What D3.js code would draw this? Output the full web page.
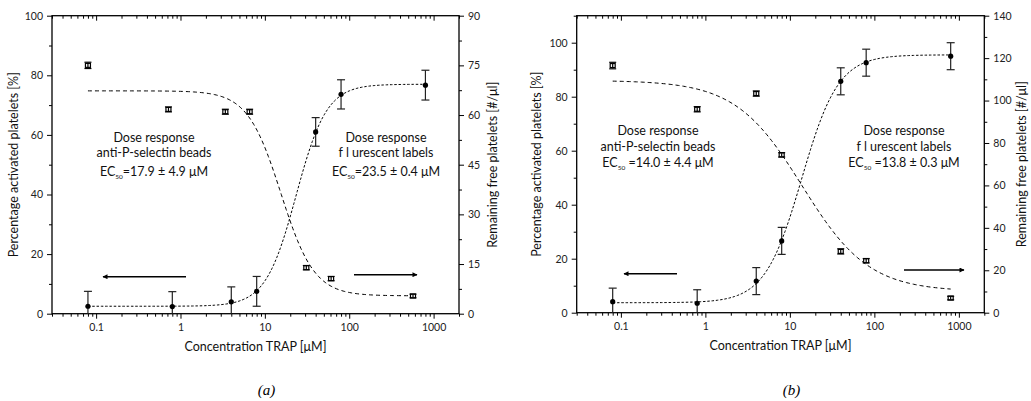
<!DOCTYPE html>
<html>
<head>
<meta charset="utf-8">
<script src="https://cdn.jsdelivr.net/npm/d3@7"></script>
<style>
body { margin: 0; background: #fff; }
svg { font-family: Lato, "Noto Sans", sans-serif; }
</style>
</head>
<body>
<svg id="chart" width="1031" height="401"></svg>
<script>
// ---- data ----
// panel (a)
var conc_act_a = [0.08, 0.8, 4, 8, 40, 80, 800];
var act_a      = [2.5, 2.4, 4.0, 7.5, 61.0, 73.6, 76.7];
var act_err_a  = [5, 5, 5, 5, 4.8, 4.9, 5];
var conc_free_a = [0.08, 0.72, 3.4, 6.6, 31, 61, 570];
var free_a      = [75.0, 61.7, 61.0, 61.0, 13.9, 10.6, 5.35];
var free_err_a  = [0.8, 0.6, 0.6, 0.6, 0.5, 0.5, 0.4];
// fit parameters [value at low conc, value at high conc, ec50, hill]
var fit_act_a  = [2.5, 77, 23.5, 2.4];
var fit_free_a = [67.3, 5.4, 15.5, 2.2];
var ec_text_a  = ["=17.9 \u00b1 4.9 \u03bcM", "=23.5 \u00b1 0.4 \u03bcM"];

// panel (b)
var conc_act_b = [0.08, 0.8, 4, 8, 40, 80, 800];
var act_b      = [4.1, 3.5, 11.7, 26.6, 85.7, 92.6, 95.0];
var act_err_b  = [5, 5, 5, 5, 5, 5, 5];
var conc_free_b = [0.08, 0.8, 4, 8, 40, 80, 800];
var free_b      = [116.5, 95.9, 103.3, 74.4, 28.9, 24.5, 6.9];
var free_err_b  = [1.3, 1.0, 1.0, 0.8, 1.0, 0.8, 0.6];
var fit_act_b  = [3.7, 95.5, 13.8, 2.0];
var fit_free_b = [109.5, 10, 14.0, 1.1];
var ec_text_b  = [" =14.0 \u00b1 4.4 \u03bcM", " =13.8 \u00b1 0.3 \u03bcM"];

var x_ticks = [0.1, 1, 10, 100, 1000];
var x_domain = [0.03, 2000];

var panels = [
    {name: "(a)", x0: 52, x1: 459, y0: 313.7, y1: 15.7,
     leftMax: 100, leftStep: 20, rightMax: 90, rightStep: 15,
     concAct: conc_act_a, act: act_a, actErr: act_err_a,
     concFree: conc_free_a, free: free_a, freeErr: free_err_a,
     fitAct: fit_act_a, fitFree: fit_free_a, ec: ec_text_a,
     curveEndFree: 570, curveEndAct: 800,
     textL: [154, 141.7], textR: [386, 141.7], lineGap: [15, 34],
     arrowL: [186, 103, 276.7], arrowR: [354, 417, 274.7],
     titleL: 18, titleR: 497},
    {name: "(b)", x0: 576.7, x1: 984.3, y0: 312.7, y1: 15.7,
     leftMax: 110, leftStep: 20, rightMax: 140, rightStep: 20,
     concAct: conc_act_b, act: act_b, actErr: act_err_b,
     concFree: conc_free_b, free: free_b, freeErr: free_err_b,
     fitAct: fit_act_b, fitFree: fit_free_b, ec: ec_text_b,
     curveEndFree: 800, curveEndAct: 800,
     textL: [658, 135], textR: [904, 135], lineGap: [16, 32],
     arrowL: [677, 624, 273.7], arrowR: [904, 964, 270],
     titleL: 541, titleR: 1026}
];

var svg = d3.select("#chart");
svg.append("defs").append("marker")
    .attr("id", "head")
    .attr("viewBox", "0 0 10 10")
    .attr("refX", 9).attr("refY", 5)
    .attr("markerWidth", 7).attr("markerHeight", 5)
    .attr("markerUnits", "userSpaceOnUse")
    .attr("orient", "auto")
    .append("path").attr("d", "M0,0L10,5L0,10z").attr("fill", "#000");

function hill(p, c) {
    var r = Math.pow(c / p[2], p[3]);
    return p[0] + (p[1] - p[0]) * r / (1 + r);
}

function logMinors(dom) {
    var out = [];
    for (var e = -2; e <= 3; e++)
        for (var k = 2; k <= 9; k++) {
            var v = k * Math.pow(10, e);
            if (v >= dom[0] && v <= dom[1]) out.push(v);
        }
    return out;
}

function drawPanel(p) {
    var g = svg.append("g");
    var x = d3.scaleLog().domain(x_domain).range([p.x0, p.x1]);
    var yL = d3.scaleLinear().domain([0, p.leftMax]).range([p.y0, p.y1]);
    var yR = d3.scaleLinear().domain([0, p.rightMax]).range([p.y0, p.y1]);

    var minorsX = logMinors(x_domain);
    var leftMaj = d3.range(0, p.leftMax + 0.1, p.leftStep);
    var leftMin = d3.range(p.leftStep / 2, p.leftMax + 0.1, p.leftStep);
    var rightMaj = d3.range(0, p.rightMax + 0.1, p.rightStep);
    var rightMin = d3.range(p.rightStep / 2, p.rightMax + 0.1, p.rightStep);

    // bottom axis
    g.append("g").attr("transform", "translate(0," + p.y0 + ")")
        .call(d3.axisBottom(x).tickValues(x_ticks).tickSizeInner(5).tickSizeOuter(0)
            .tickPadding(5).tickFormat(d3.format("~g")));
    g.append("g").attr("transform", "translate(0," + p.y0 + ")")
        .call(d3.axisBottom(x).tickValues(minorsX).tickSizeInner(3).tickSizeOuter(0).tickFormat(""));
    // top axis, ticks inside
    g.append("g").attr("transform", "translate(0," + p.y1 + ")")
        .call(d3.axisBottom(x).tickValues(x_ticks).tickSizeInner(5).tickSizeOuter(0).tickFormat(""));
    g.append("g").attr("transform", "translate(0," + p.y1 + ")")
        .call(d3.axisBottom(x).tickValues(minorsX).tickSizeInner(3).tickSizeOuter(0).tickFormat(""));
    // left
    g.append("g").attr("transform", "translate(" + p.x0 + ",0)")
        .call(d3.axisLeft(yL).tickValues(leftMaj).tickSizeInner(5).tickSizeOuter(0).tickPadding(4));
    g.append("g").attr("transform", "translate(" + p.x0 + ",0)")
        .call(d3.axisLeft(yL).tickValues(leftMin).tickSizeInner(3).tickSizeOuter(0).tickFormat(""));
    // right
    g.append("g").attr("transform", "translate(" + p.x1 + ",0)")
        .call(d3.axisRight(yR).tickValues(rightMaj).tickSizeInner(5).tickSizeOuter(0).tickPadding(4));
    g.append("g").attr("transform", "translate(" + p.x1 + ",0)")
        .call(d3.axisRight(yR).tickValues(rightMin).tickSizeInner(3).tickSizeOuter(0).tickFormat(""));

    g.selectAll(".tick text").attr("font-size", 10.5).attr("fill", "#222")
        .attr("font-family", "Lato, sans-serif");
    g.selectAll(".domain").remove();
    g.selectAll(".tick line").attr("stroke", "#000").attr("stroke-width", 1);

    g.append("rect")
        .attr("x", p.x0).attr("y", p.y1)
        .attr("width", p.x1 - p.x0).attr("height", p.y0 - p.y1)
        .attr("fill", "none").attr("stroke", "#000").attr("stroke-width", 1.3);

    // fitted curves
    var samples = function (end) {
        return d3.range(0, 201).map(function (i) {
            return Math.pow(10, Math.log10(0.08) + i / 200 * (Math.log10(end) - Math.log10(0.08)));
        });
    };
    g.append("path")
        .datum(samples(p.curveEndFree))
        .attr("d", d3.line().x(function (c) { return x(c); })
            .y(function (c) { return yR(hill(p.fitFree, c)); }))
        .attr("fill", "none").attr("stroke", "#000").attr("stroke-width", 1)
        .attr("stroke-dasharray", "4,3");
    g.append("path")
        .datum(samples(p.curveEndAct))
        .attr("d", d3.line().x(function (c) { return x(c); })
            .y(function (c) { return yL(hill(p.fitAct, c)); }))
        .attr("fill", "none").attr("stroke", "#000").attr("stroke-width", 1)
        .attr("stroke-dasharray", "2.5,1.8");

    // activated (left axis) with error bars
    var act = p.concAct.map(function (c, i) { return {c: c, v: p.act[i], e: p.actErr[i]}; });
    var eb = g.selectAll(".ebA").data(act).enter().append("g");
    eb.append("line")
        .attr("x1", function (d) { return x(d.c); }).attr("x2", function (d) { return x(d.c); })
        .attr("y1", function (d) { return yL(Math.max(0, d.v - d.e)); })
        .attr("y2", function (d) { return yL(d.v + d.e); });
    eb.append("line")
        .attr("x1", function (d) { return x(d.c) - 4; }).attr("x2", function (d) { return x(d.c) + 4; })
        .attr("y1", function (d) { return yL(d.v + d.e); }).attr("y2", function (d) { return yL(d.v + d.e); });
    eb.filter(function (d) { return d.v - d.e > 0; }).append("line")
        .attr("x1", function (d) { return x(d.c) - 4; }).attr("x2", function (d) { return x(d.c) + 4; })
        .attr("y1", function (d) { return yL(d.v - d.e); }).attr("y2", function (d) { return yL(d.v - d.e); });
    eb.selectAll("line").attr("stroke", "#222").attr("stroke-width", 1.2);
    eb.append("circle")
        .attr("cx", function (d) { return x(d.c); })
        .attr("cy", function (d) { return yL(d.v); })
        .attr("r", 2.6).attr("fill", "#000");

    // remaining free platelets (right axis)
    var free = p.concFree.map(function (c, i) { return {c: c, v: p.free[i], e: p.freeErr[i]}; });
    var sq = g.selectAll(".ebF").data(free).enter().append("g");
    sq.append("rect")
        .attr("x", function (d) { return x(d.c) - 2.5; })
        .attr("y", function (d) { return yR(d.v) - 2; })
        .attr("width", 5).attr("height", 4)
        .attr("fill", "#fff").attr("stroke", "#000").attr("stroke-width", 1.2);
    sq.append("line")
        .attr("x1", function (d) { return x(d.c) - 3.5; }).attr("x2", function (d) { return x(d.c) + 3.5; })
        .attr("y1", function (d) { return yR(d.v + d.e) - 0.5; }).attr("y2", function (d) { return yR(d.v + d.e) - 0.5; });
    sq.append("line")
        .attr("x1", function (d) { return x(d.c) - 3.5; }).attr("x2", function (d) { return x(d.c) + 3.5; })
        .attr("y1", function (d) { return yR(d.v - d.e) + 0.5; }).attr("y2", function (d) { return yR(d.v - d.e) + 0.5; });
    sq.append("line")
        .attr("x1", function (d) { return x(d.c); }).attr("x2", function (d) { return x(d.c); })
        .attr("y1", function (d) { return yR(d.v + d.e); }).attr("y2", function (d) { return yR(d.v - d.e); });
    sq.selectAll("line").attr("stroke", "#000").attr("stroke-width", 1.2);

    // arrows
    [p.arrowL, p.arrowR].forEach(function (a) {
        g.append("line").attr("x1", a[0]).attr("x2", a[1]).attr("y1", a[2]).attr("y2", a[2])
            .attr("stroke", "#000").attr("stroke-width", 1.4).attr("marker-end", "url(#head)");
    });

    // annotations
    var labels = [["Dose response", "anti-P-selectin beads", p.ec[0], p.textL],
                  ["Dose response", "f l urescent labels", p.ec[1], p.textR]];
    labels.forEach(function (l) {
        var t = g.append("g").attr("font-size", 12.5).attr("fill", "#111").attr("text-anchor", "middle");
        t.append("text").attr("x", l[3][0]).attr("y", l[3][1]).text(l[0]);
        t.append("text").attr("x", l[3][0]).attr("y", l[3][1] + p.lineGap[0]).text(l[1]);
        var ec = t.append("text").attr("x", l[3][0]).attr("y", l[3][1] + p.lineGap[1]);
        ec.append("tspan").text("EC");
        ec.append("tspan").attr("font-size", 6.5).attr("dy", 3).text("50");
        ec.append("tspan").attr("dy", -3).text(l[2]);
    });

    // axis titles
    var midY = (p.y0 + p.y1) / 2;
    g.append("text").attr("transform", "translate(" + p.titleL + "," + midY + ") rotate(-90)")
        .attr("text-anchor", "middle").attr("font-size", 12.5).attr("fill", "#111")
        .text("Percentage activated platelets [%]");
    g.append("text").attr("transform", "translate(" + p.titleR + "," + midY + ") rotate(-90)")
        .attr("text-anchor", "middle").attr("font-size", 12.5).attr("fill", "#111")
        .text("Remaining free platelets [#/\u03bcl]");
    g.append("text").attr("x", (p.x0 + p.x1) / 2).attr("y", p.y0 + 37)
        .attr("text-anchor", "middle").attr("font-size", 12.5).attr("fill", "#111")
        .text("Concentration TRAP [\u03bcM]");
    g.append("text").attr("x", (p.x0 + p.x1) / 2 + 11).attr("y", 395)
        .attr("text-anchor", "middle").attr("font-size", 15).attr("font-style", "italic")
        .attr("font-family", "'Liberation Serif', 'DejaVu Serif', serif")
        .text(p.name);
}

panels.forEach(drawPanel);
</script>
</body>
</html>
